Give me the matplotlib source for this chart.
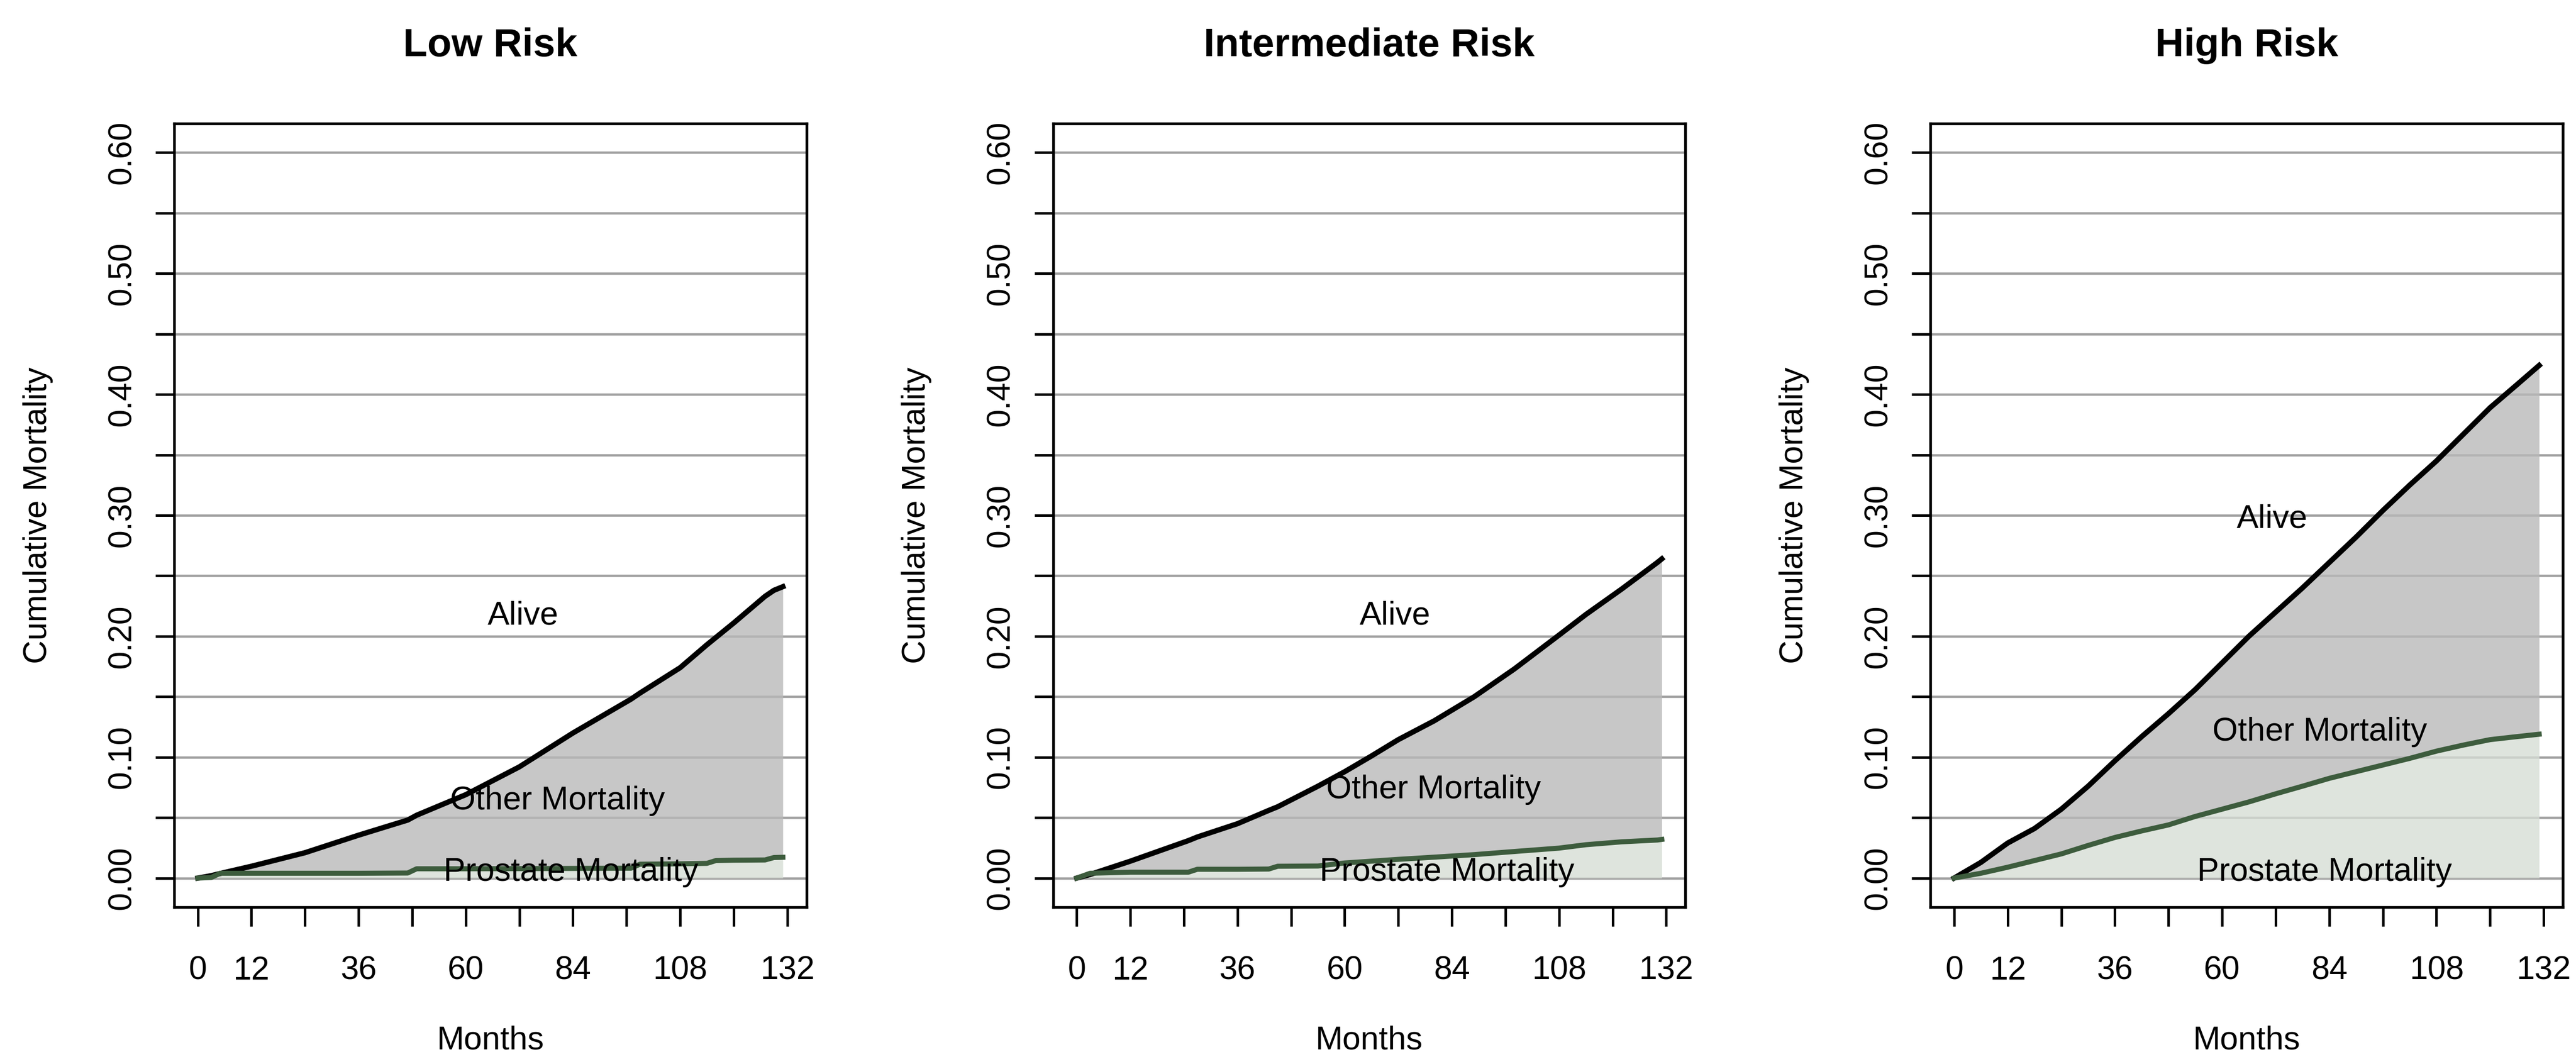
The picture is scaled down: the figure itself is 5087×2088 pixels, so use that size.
import numpy as np
import matplotlib
matplotlib.use("Agg")
import matplotlib.pyplot as plt

plt.rcParams['font.family'] = ['Liberation Sans', 'DejaVu Sans']

titles = ["Low Risk", "Intermediate Risk", "High Risk"]

# months and cumulative mortality (total = prostate + other)
low_months = [0, 3, 5, 12, 24, 36, 47, 49, 60, 72, 84, 97, 99, 108, 114, 116, 120, 127, 129, 131]
low_total = [0, 0.002, 0.0038, 0.0098, 0.021, 0.0355, 0.048, 0.052, 0.069, 0.092, 0.120,
             0.148, 0.153, 0.174, 0.193, 0.199, 0.211, 0.233, 0.238, 0.241]
low_prostate = [0, 0.0005, 0.0040, 0.0040, 0.0040, 0.0040, 0.0042, 0.0077, 0.0077, 0.0078,
                0.0080, 0.0082, 0.0115, 0.0118, 0.0122, 0.0145, 0.0148, 0.0150, 0.0170, 0.0172]

int_months = [0, 3, 12, 25, 27, 36, 43, 45, 54, 60, 66, 72, 80, 89, 98, 108, 114, 122, 130, 131]
int_total = [0, 0.003, 0.014, 0.031, 0.034, 0.045, 0.056, 0.059, 0.076, 0.088, 0.101, 0.1145,
             0.130, 0.150, 0.173, 0.201, 0.218, 0.239, 0.261, 0.264]
int_prostate = [0, 0.004, 0.0049, 0.0049, 0.0073, 0.0073, 0.0075, 0.0098, 0.0100, 0.0125,
                0.0140, 0.0155, 0.0173, 0.0194, 0.0220, 0.0248, 0.0276, 0.0300, 0.0315, 0.032]

high_months = [0, 6, 12, 18, 24, 30, 36, 42, 48, 54, 60, 66, 72, 78, 84, 90, 96, 102, 108,
               114, 120, 126, 131]
high_total = [0, 0.013, 0.029, 0.041, 0.057, 0.076, 0.097, 0.117, 0.136, 0.156, 0.178, 0.200,
              0.220, 0.240, 0.261, 0.282, 0.304, 0.325, 0.345, 0.367, 0.389, 0.408, 0.424]
high_prostate = [0, 0.004, 0.009, 0.0145, 0.020, 0.027, 0.0336, 0.039, 0.044, 0.051, 0.057,
                 0.063, 0.0697, 0.076, 0.0825, 0.088, 0.0935, 0.099, 0.105, 0.110, 0.1145,
                 0.117, 0.119]

# label positions (month, value) per panel
alive_pos = [(72.8, 0.217), (71.3, 0.217), (71.2, 0.297)]
other_pos = [(80.6, 0.064), (79.9, 0.073), (81.9, 0.121)]
prost_pos = [(83.6, 0.005), (82.9, 0.005), (83.0, 0.005)]

panels = [(low_months, low_total, low_prostate),
          (int_months, int_total, int_prostate),
          (high_months, high_total, high_prostate)]

x_ticks = np.arange(0, 133, 12)
x_labels = ["0", "12", "", "36", "", "60", "", "84", "", "108", "", "132"]
y_ticks = np.arange(0, 0.601, 0.05)
y_labels = ["%.2f" % v if i % 2 == 0 else "" for i, v in enumerate(y_ticks)]

fig = plt.figure(figsize=(5087 / 300, 2088 / 300), dpi=300)
lefts = [0.0676, 0.4088, 0.7494]
width = 0.2455
bottom, height = 0.1418, 0.7413

for i, (m, tot, pro) in enumerate(panels):
    ax = fig.add_axes([lefts[i], bottom, width, height])
    m = np.array(m)
    tot = np.array(tot)
    pro = np.array(pro)

    for yv in y_ticks:
        ax.axhline(yv, color="#a0a0a0", lw=1.1, zorder=1)

    ax.fill_between(m, pro, tot, color="#b9b9b9", alpha=0.79, lw=0, zorder=2)
    ax.fill_between(m, 0, pro, color="#d6ddd5", alpha=0.79, lw=0, zorder=2)
    ax.plot(m, tot, color="black", lw=2.5, zorder=3)
    ax.plot(m, pro, color="#3d5c3d", lw=2.4, zorder=3)

    fs = 15.5
    ax.text(*alive_pos[i], "Alive", ha="center", va="center", fontsize=fs, zorder=4)
    ax.text(*other_pos[i], "Other Mortality", ha="center", va="center", fontsize=fs, zorder=4)
    ax.text(*prost_pos[i], "Prostate Mortality", ha="center", va="center", fontsize=fs, zorder=4)

    ax.set_xlim(-5.3, 136.3)
    ax.set_ylim(-0.024, 0.624)
    ax.set_xticks(x_ticks)
    ax.set_xticklabels(x_labels, fontsize=fs)
    ax.set_yticks(y_ticks)
    ax.set_yticklabels(y_labels, fontsize=fs, rotation=90, va="center")
    ax.tick_params(axis="x", direction="out", length=9, width=1.2, pad=14)
    ax.tick_params(axis="y", direction="out", length=9, width=1.2, pad=8.6)
    for s in ax.spines.values():
        s.set_linewidth(1.3)
        s.set_zorder(5)

    cx = lefts[i] + width / 2
    fig.text(cx, 0.9565, titles[i], ha="center", va="center", fontsize=18.8, fontweight="bold")
    fig.text(lefts[i] - 0.0529, bottom + height / 2, "Cumulative Mortality", rotation=90,
             ha="center", va="center", fontsize=fs)
    fig.text(cx, 0.0075, "Months", ha="center", va="baseline", fontsize=fs)

fig.savefig("out.png", dpi=300)
